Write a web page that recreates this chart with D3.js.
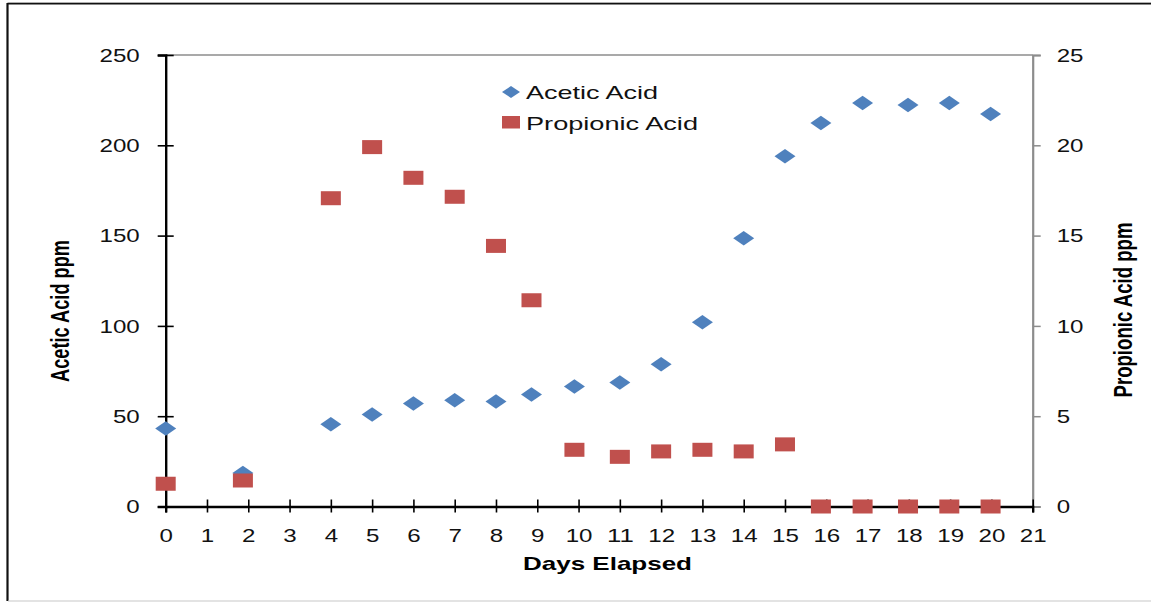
<!DOCTYPE html>
<html>
<head>
<meta charset="utf-8">
<script src="https://cdn.jsdelivr.net/npm/d3@7"></script>
<style>
  html, body { margin: 0; padding: 0; background: #fff; }
  svg { display: block; font-family: "Liberation Sans", Arial, sans-serif; }
</style>
</head>
<body>
<div class="chart"></div>
<script>
// sampling days (a few samples were taken slightly before the whole day)
var days = [0, 1.87, 4, 5, 6, 7, 8, 8.86, 9.9, 11, 12, 13, 14, 15, 15.87, 16.88, 17.98, 18.98, 19.98];
var acetic = [43.2, 18.5, 45.5, 51, 57, 58.8, 58.2, 62, 66.5, 68.7, 78.7, 102, 148.6, 194, 212.3, 223.4, 222.3, 223.4, 217.3];
var propionic = [1.26, 1.44, 17.07, 19.9, 18.2, 17.15, 14.43, 11.42, 3.14, 2.75, 3.05, 3.14, 3.05, 3.44, 0, 0, 0, 0, 0];

var xTicks = d3.range(0, 22);
var yTicks = [0, 50, 100, 150, 200, 250];
var y2Ticks = [0, 5, 10, 15, 20, 25];

var blue = '#4f81bd';
var red = '#c0504d';

var width = 1151, height = 602;

var svg = d3.select('.chart')
    .append('svg')
    .attr('width', width)
    .attr('height', height);

// outer frame
svg.append('line').attr('x1', 7.5).attr('x2', width).attr('y1', 2.5).attr('y2', 2.5)
    .attr('stroke', '#b0b0b0').attr('stroke-width', 1);
svg.append('line').attr('x1', 7.5).attr('x2', width).attr('y1', 3.8).attr('y2', 3.8)
    .attr('stroke', '#111').attr('stroke-width', 1.6);
svg.append('line').attr('x1', 7.5).attr('x2', 7.5).attr('y1', 3).attr('y2', 601)
    .attr('stroke', '#111').attr('stroke-width', 2.2);
svg.append('line').attr('x1', 8).attr('x2', width).attr('y1', 601).attr('y2', 601)
    .attr('stroke', '#c8c8c8').attr('stroke-width', 1.2);

var x = d3.scaleLinear().domain([0, 21]).range([165.7, 1032.7]);
var y = d3.scaleLinear().domain([0, 250]).range([506.5, 55]);
var y2 = d3.scaleLinear().domain([0, 25]).range([506.5, 55]);

// width of a stretched label (the original text is wide)
function labelWidth(s) { return s.length * 13.4; }

// top border of the plot area
svg.append('line')
    .attr('x1', x(0)).attr('x2', x(21))
    .attr('y1', y(250)).attr('y2', y(250))
    .attr('stroke', '#8c8c8c').attr('stroke-width', 1.5);

// right axis
var rightAxis = svg.append('g')
    .attr('transform', 'translate(' + x(21) + ',0)')
    .call(d3.axisRight(y2).tickValues(y2Ticks).tickSize(8).tickPadding(16));
rightAxis.select('.domain').attr('stroke', '#8c8c8c').attr('stroke-width', 2.2);
rightAxis.selectAll('.tick line').attr('stroke', '#8c8c8c').attr('stroke-width', 1.5);
rightAxis.selectAll('.tick text')
    .attr('font-size', 17.5)
    .attr('font-family', '"Liberation Sans", Arial, sans-serif')
    .attr('fill', '#111')
    .attr('dy', '0.36em')
    .attr('textLength', function(d) { return labelWidth(String(d)); })
    .attr('lengthAdjust', 'spacingAndGlyphs');

// left axis
var leftAxis = svg.append('g')
    .attr('transform', 'translate(' + x(0) + ',0)')
    .call(d3.axisLeft(y).tickValues(yTicks).tickSize(8).tickPadding(18));
leftAxis.select('.domain').attr('stroke', '#000').attr('stroke-width', 2.4);
leftAxis.selectAll('.tick line').attr('x1', 8).attr('stroke', '#000').attr('stroke-width', 1.6);
leftAxis.selectAll('.tick text')
    .attr('font-size', 17.5)
    .attr('font-family', '"Liberation Sans", Arial, sans-serif')
    .attr('fill', '#111')
    .attr('dy', '0.36em')
    .attr('textLength', function(d) { return labelWidth(String(d)); })
    .attr('lengthAdjust', 'spacingAndGlyphs');

// bottom axis
var bottomAxis = svg.append('g')
    .attr('transform', 'translate(0,' + y(0) + ')')
    .call(d3.axisBottom(x).tickValues(xTicks).tickFormat(d3.format('d')).tickSize(6).tickPadding(17));
bottomAxis.select('.domain').attr('stroke', '#000').attr('stroke-width', 2.4);
bottomAxis.selectAll('.tick line').attr('y1', -7).attr('stroke', '#000').attr('stroke-width', 1.6);
bottomAxis.selectAll('.tick text')
    .attr('font-size', 17.5)
    .attr('font-family', '"Liberation Sans", Arial, sans-serif')
    .attr('fill', '#111')
    .attr('textLength', function(d) { return labelWidth(String(d)); })
    .attr('lengthAdjust', 'spacingAndGlyphs');

// markers
var diamond = function(w, h) {
    return 'M0,' + (-h / 2) + 'L' + (w / 2) + ',0L0,' + (h / 2) + 'L' + (-w / 2) + ',0Z';
};

var points = days.map(function(d, i) {
    return { day: d, a: acetic[i], p: propionic[i] };
});

svg.append('g')
    .selectAll('path')
    .data(points)
    .enter()
    .append('path')
    .attr('d', diamond(21, 14.5))
    .attr('transform', function(d) { return 'translate(' + x(d.day) + ',' + y(d.a) + ')'; })
    .attr('fill', blue);

svg.append('g')
    .selectAll('rect')
    .data(points)
    .enter()
    .append('rect')
    .attr('x', function(d) { return x(d.day) - 10; })
    .attr('y', function(d) { return y2(d.p) - 7; })
    .attr('width', 20)
    .attr('height', 14)
    .attr('fill', red);

// legend
var legend = svg.append('g');
legend.append('path')
    .attr('d', diamond(18, 12))
    .attr('transform', 'translate(511,92)')
    .attr('fill', blue);
legend.append('text')
    .attr('x', 526).attr('y', 99.3)
    .attr('font-size', 18.5)
    .attr('textLength', 132).attr('lengthAdjust', 'spacingAndGlyphs')
    .attr('fill', '#111')
    .text('Acetic Acid');
legend.append('rect')
    .attr('x', 502).attr('y', 116).attr('width', 18).attr('height', 12.5)
    .attr('fill', red);
legend.append('text')
    .attr('x', 526).attr('y', 130)
    .attr('font-size', 18.5)
    .attr('textLength', 172).attr('lengthAdjust', 'spacingAndGlyphs')
    .attr('fill', '#111')
    .text('Propionic Acid');

// axis titles
svg.append('text')
    .attr('transform', 'translate(69.3,311) rotate(-90)')
    .attr('text-anchor', 'middle')
    .attr('font-size', 26)
    .attr('font-weight', 'bold')
    .attr('textLength', 142).attr('lengthAdjust', 'spacingAndGlyphs')
    .text('Acetic Acid ppm');

svg.append('text')
    .attr('transform', 'translate(1131.7,310) rotate(-90)')
    .attr('text-anchor', 'middle')
    .attr('font-size', 26)
    .attr('font-weight', 'bold')
    .attr('textLength', 175).attr('lengthAdjust', 'spacingAndGlyphs')
    .text('Propionic Acid ppm');

svg.append('text')
    .attr('x', 607.5).attr('y', 570)
    .attr('text-anchor', 'middle')
    .attr('font-size', 18.5)
    .attr('font-weight', 'bold')
    .attr('textLength', 169).attr('lengthAdjust', 'spacingAndGlyphs')
    .text('Days Elapsed');
</script>
</body>
</html>
